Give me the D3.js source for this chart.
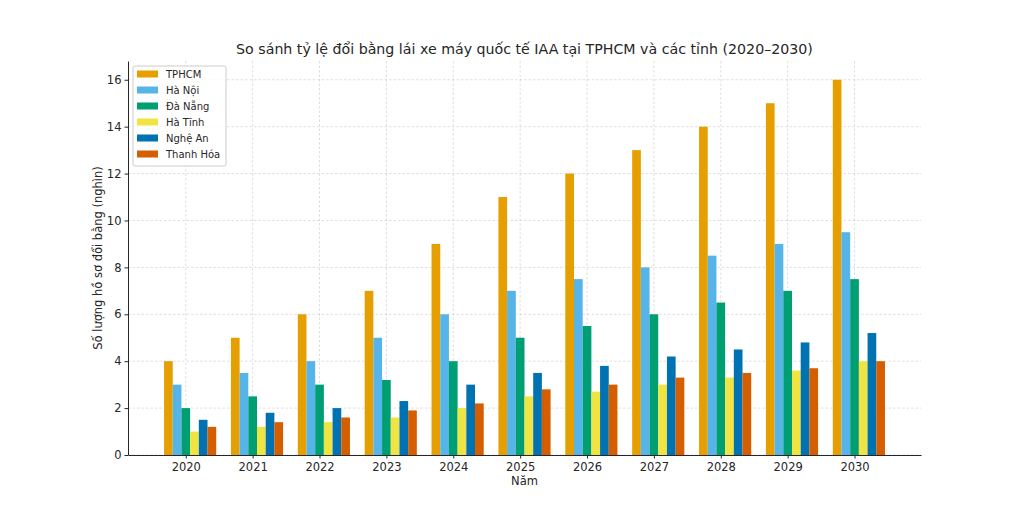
<!DOCTYPE html>
<html>
<head>
<meta charset="utf-8">
<script src="https://cdn.jsdelivr.net/npm/d3@7"></script>
<style>
  body { margin: 0; background: #fff; }
  text { font-family: "DejaVu Sans", sans-serif; fill: #262626; }
</style>
</head>
<body>
<div id="graph"></div>
<script>
var years = ["2020", "2021", "2022", "2023", "2024", "2025", "2026", "2027", "2028", "2029", "2030"];
var seriesNames = ["TPHCM", "Hà Nội", "Đà Nẵng", "Hà Tĩnh", "Nghệ An", "Thanh Hóa"];
var tphcm    = [4, 5, 6, 7, 9, 11, 12, 13, 14, 15, 16];
var haNoi    = [3, 3.5, 4, 5, 6, 7, 7.5, 8, 8.5, 9, 9.5];
var daNang   = [2, 2.5, 3, 3.2, 4, 5, 5.5, 6, 6.5, 7, 7.5];
var haTinh   = [1, 1.2, 1.4, 1.6, 2, 2.5, 2.7, 3, 3.3, 3.6, 4];
var ngheAn   = [1.5, 1.8, 2, 2.3, 3, 3.5, 3.8, 4.2, 4.5, 4.8, 5.2];
var thanhHoa = [1.2, 1.4, 1.6, 1.9, 2.2, 2.8, 3, 3.3, 3.5, 3.7, 4];
var yTicks = [0, 2, 4, 6, 8, 10, 12, 14, 16];
var colors = ["#E69F00", "#56B4E9", "#009E73", "#F0E442", "#0072B2", "#D55E00"];

var allSeries = [tphcm, haNoi, daNang, haTinh, ngheAn, thanhHoa];

var W = 1024, H = 512;
var margin = {top: 61, right: 103, bottom: 57, left: 128};
var width = W - margin.left - margin.right;
var height = H - margin.top - margin.bottom;
var barW = 0.13;

var svg = d3.select("#graph").append("svg")
    .attr("width", W)
    .attr("height", H);

var g = svg.append("g")
    .attr("transform", "translate(" + margin.left + "," + margin.top + ")");

// data extent in category units, plus 5% margins like matplotlib
var lo = -2.5 * barW, hi = (years.length - 1) + 3.5 * barW;
var pad = (hi - lo) * 0.05;
var x = d3.scaleLinear()
    .domain([lo - pad, hi + pad])
    .range([0, width]);

var y = d3.scaleLinear()
    .domain([0, 16.8])
    .range([height, 0]);

// grid
g.append("g").selectAll("line").data(yTicks).enter().append("line")
    .attr("x1", 0).attr("x2", width)
    .attr("y1", function(d) { return y(d); })
    .attr("y2", function(d) { return y(d); })
    .attr("stroke", "#b0b0b0").attr("stroke-opacity", 0.5)
    .attr("stroke-dasharray", "2.5,2").attr("stroke-width", 0.8);
g.append("g").selectAll("line").data(years).enter().append("line")
    .attr("y1", 0).attr("y2", height)
    .attr("x1", function(d, i) { return x(i); })
    .attr("x2", function(d, i) { return x(i); })
    .attr("stroke", "#b0b0b0").attr("stroke-opacity", 0.5)
    .attr("stroke-dasharray", "2.5,2").attr("stroke-width", 0.8);

// bars
allSeries.forEach(function(vals, s) {
    g.append("g").selectAll("rect").data(vals).enter().append("rect")
        .attr("x", function(d, i) { return x(i + (s - 2.5) * barW); })
        .attr("width", x(barW) - x(0))
        .attr("y", function(d) { return y(d); })
        .attr("height", function(d) { return y(0) - y(d); })
        .attr("fill", colors[s]);
});

// axes
var xAxis = d3.axisBottom(x)
    .tickValues(d3.range(years.length))
    .tickFormat(function(d) { return years[d]; })
    .tickSize(3.5).tickSizeOuter(0);
var yAxis = d3.axisLeft(y)
    .tickValues(yTicks)
    .tickSize(3.5).tickSizeOuter(0);

var gx = g.append("g").attr("transform", "translate(0," + height + ")").call(xAxis);
var gy = g.append("g").call(yAxis);
[gx, gy].forEach(function(a) {
    a.select(".domain").attr("stroke", "#262626").attr("stroke-width", 1);
    a.selectAll(".tick line").attr("stroke", "#262626");
    a.selectAll(".tick text").style("font-size", "11.5px").attr("fill", "#262626");
});
gx.selectAll(".tick text").attr("dy", "0.85em");

// labels
svg.append("text")
    .attr("x", margin.left + width / 2).attr("y", 54)
    .attr("text-anchor", "middle")
    .style("font-size", "14.2px")
    .text("So sánh tỷ lệ đổi bằng lái xe máy quốc tế IAA tại TPHCM và các tỉnh (2020–2030)");
svg.append("text")
    .attr("x", margin.left + width / 2).attr("y", 485)
    .attr("text-anchor", "middle")
    .style("font-size", "11.5px")
    .text("Năm");
svg.append("text")
    .attr("transform", "translate(102," + (margin.top + height / 2) + ") rotate(-90)")
    .attr("text-anchor", "middle")
    .style("font-size", "11.5px")
    .text("Số lượng hồ sơ đổi bằng (nghìn)");

// legend
var lg = svg.append("g").attr("transform", "translate(133,66)");
lg.append("rect")
    .attr("width", 93).attr("height", 100).attr("rx", 2)
    .attr("fill", "#fff").attr("fill-opacity", 0.8)
    .attr("stroke", "#cccccc");
seriesNames.forEach(function(n, i) {
    var row = lg.append("g").attr("transform", "translate(0," + (8 + i * 16) + ")");
    row.append("rect").attr("x", 4).attr("y", -3.5).attr("width", 21).attr("height", 7)
        .attr("fill", colors[i]);
    row.append("text").attr("x", 33).attr("y", 0).attr("dy", "0.35em")
        .style("font-size", "10px").text(n);
});
</script>
</body>
</html>
